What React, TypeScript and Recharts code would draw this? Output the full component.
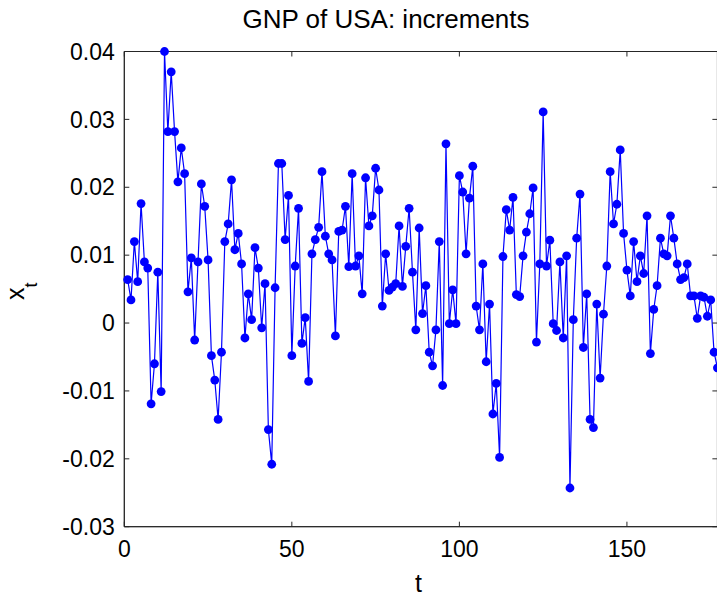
import React from 'react';
import { LineChart, Line, XAxis, YAxis, ReferenceArea } from 'recharts';

// Quarterly increments of log GNP, t = 1..177
const incrementsA = [
  0.0064, 0.0034, 0.012, 0.0061, 0.0176, 0.009, 0.0081, -0.0119, -0.006, 0.0075,
  -0.0101, 0.04, 0.0282, 0.037, 0.0282, 0.0208, 0.0258, 0.022, 0.0046, 0.0096,
  -0.0025, 0.009, 0.0205, 0.0172, 0.0093, -0.0048, -0.0084, -0.0142,
];
const incrementsB = [
  -0.0043, 0.012, 0.0146, 0.0211, 0.0108, 0.0132, 0.0087, -0.0022, 0.0043, 0.0005,
  0.0111, 0.0081, -0.0007, 0.0058, -0.0157, -0.0208, 0.0052, 0.0235, 0.0235, 0.0123,
  0.0188, -0.0048, 0.0084, 0.0169, -0.003, 0.0008, -0.0086, 0.0102, 0.0123, 0.0141,
  0.0223,
];
const incrementsC = [
  0.0128, 0.0102, 0.0093, -0.0019, 0.0135, 0.0137, 0.0172, 0.0083, 0.022, 0.0084,
  0.0099, 0.0043, 0.0214, 0.0143, 0.0158, 0.0228, 0.0196, 0.0025, 0.0102, 0.0048,
  0.0053, 0.0058, 0.0143, 0.0054, 0.0113, 0.0169, 0.0075, -0.001, 0.014,
];
const incrementsD = [
  0.0014, 0.0055, -0.0043, -0.0063, -0.001, 0.012, -0.0092, 0.0264, -0.0001, 0.0049,
  -0.0001, 0.0217, 0.0193, 0.0102, 0.0184, 0.0231, 0.0025, -0.001, 0.0087, -0.0057,
  0.0028, -0.0134, -0.0089, -0.0198, 0.0098, 0.0167, 0.0137, 0.0185,
];
const incrementsE = [
  0.0042, 0.0039, 0.0099, 0.0134, 0.0161, 0.0199, -0.0028, 0.0087, 0.0311, 0.0084,
  0.0122, -0.0001, -0.0011, 0.009, -0.0022, 0.0099, -0.0243, 0.0005, 0.0125, 0.019,
  -0.0036, 0.0043, -0.0142, -0.0154, 0.0028, -0.0081, 0.0013, 0.0084, 0.0223, 0.0146,
  0.0175, 0.0255,
];
const incrementsF = [
  0.0132, 0.0078, 0.004, 0.012, 0.0061, 0.0099, 0.0073, 0.0158, -0.0045, 0.002,
  0.0055, 0.0125, 0.0102, 0.0099, 0.0158, 0.0125, 0.0087, 0.0064, 0.0067, 0.0087,
  0.004, 0.004, 0.0007, 0.004, 0.0038, 0.001, 0.0034, -0.0043, -0.0066,
];

const increments = [
  ...incrementsA, ...incrementsB, ...incrementsC,
  ...incrementsD, ...incrementsE, ...incrementsF,
];

const xTicks = [0, 50, 100, 150];
const yTicks = [-0.03, -0.02, -0.01, 0, 0.01, 0.02, 0.03, 0.04];
const xDomain = [0, 177];
const yDomain = [-0.03, 0.04];

const data = increments.map((v, i) => ({ t: i + 1, x: v }));

const W = 717;
const H = 595;
// The axes box runs slightly past the right edge of the figure, as in a cropped export
const CHART_W = 722;
const BOX = { left: 124.3, right: 717.4, top: 51.5, bottom: 526.7 };
const TICK_LEN = 5;
const AXIS_COLOR = '#262626';
const FONT = '"Liberation Sans", Arial, Helvetica, sans-serif';

const fmtY = (v: number) => (Math.abs(v) < 1e-9 ? '0' : v.toFixed(2));

const XTick = (props: any) => {
  const { x, payload } = props;
  return (
    <g>
      <line x1={x} x2={x} y1={BOX.bottom} y2={BOX.bottom - TICK_LEN} stroke={AXIS_COLOR} strokeWidth={1} />
      <line x1={x} x2={x} y1={BOX.top} y2={BOX.top + TICK_LEN} stroke={AXIS_COLOR} strokeWidth={1} />
      <text x={x} y={BOX.bottom + 14} dy="0.71em" textAnchor="middle" fontFamily={FONT} fontSize={23} fill="#000">
        {payload.value}
      </text>
    </g>
  );
};

const YTick = (props: any) => {
  const { y, payload } = props;
  return (
    <g>
      <line x1={BOX.left} x2={BOX.left + TICK_LEN} y1={y} y2={y} stroke={AXIS_COLOR} strokeWidth={1} />
      <line x1={BOX.right} x2={BOX.right - TICK_LEN} y1={y} y2={y} stroke={AXIS_COLOR} strokeWidth={1} />
      <text x={BOX.left - 9.5} y={y} dy="0.355em" textAnchor="end" fontFamily={FONT} fontSize={23} fill="#000">
        {fmtY(payload.value)}
      </text>
    </g>
  );
};

export default function App() {
  return (
    <div style={{ position: 'absolute', left: 0, top: 0, width: W, height: H, overflow: 'hidden', background: '#fff' }}>
      <LineChart
        width={CHART_W}
        height={H}
        data={data}
        margin={{ top: BOX.top, right: CHART_W - BOX.right, bottom: H - BOX.bottom - 40, left: BOX.left - 60 }}
      >
        <XAxis
          dataKey="t"
          type="number"
          domain={xDomain}
          ticks={xTicks}
          interval={0}
          height={40}
          tickLine={false}
          axisLine={{ stroke: AXIS_COLOR, strokeWidth: 1 }}
          tick={<XTick />}
        />
        <YAxis
          type="number"
          domain={yDomain}
          ticks={yTicks}
          interval={0}
          width={60}
          tickLine={false}
          axisLine={{ stroke: AXIS_COLOR, strokeWidth: 1 }}
          tick={<YTick />}
        />
        <ReferenceArea
          x1={xDomain[0]}
          x2={xDomain[1]}
          y1={yDomain[0]}
          y2={yDomain[1]}
          fill="none"
          fillOpacity={0}
          stroke={AXIS_COLOR}
          strokeWidth={1}
        />
        <Line
          type="linear"
          dataKey="x"
          stroke="#0000ff"
          strokeWidth={1.2}
          dot={{ r: 4.4, fill: '#0000ff', stroke: 'none' }}
          activeDot={false}
          isAnimationActive={false}
        />
      </LineChart>
      <svg width={W} height={H} style={{ position: 'absolute', left: 0, top: 0, pointerEvents: 'none' }}>
        <text x={386} y={28.3} textAnchor="middle" fontFamily={FONT} fontSize={26} fill="#000">
          GNP of USA: increments
        </text>
        <text x={(BOX.left + 712.7) / 2} y={591.5} textAnchor="middle" fontFamily={FONT} fontSize={25} fill="#000">
          t
        </text>
        <text transform="rotate(-90)" x={-300} y={24} fontFamily={FONT} fontSize={25} fill="#000">
          x
          <tspan dy={12.5} fontSize={18}>t</tspan>
        </text>
      </svg>
    </div>
  );
}
